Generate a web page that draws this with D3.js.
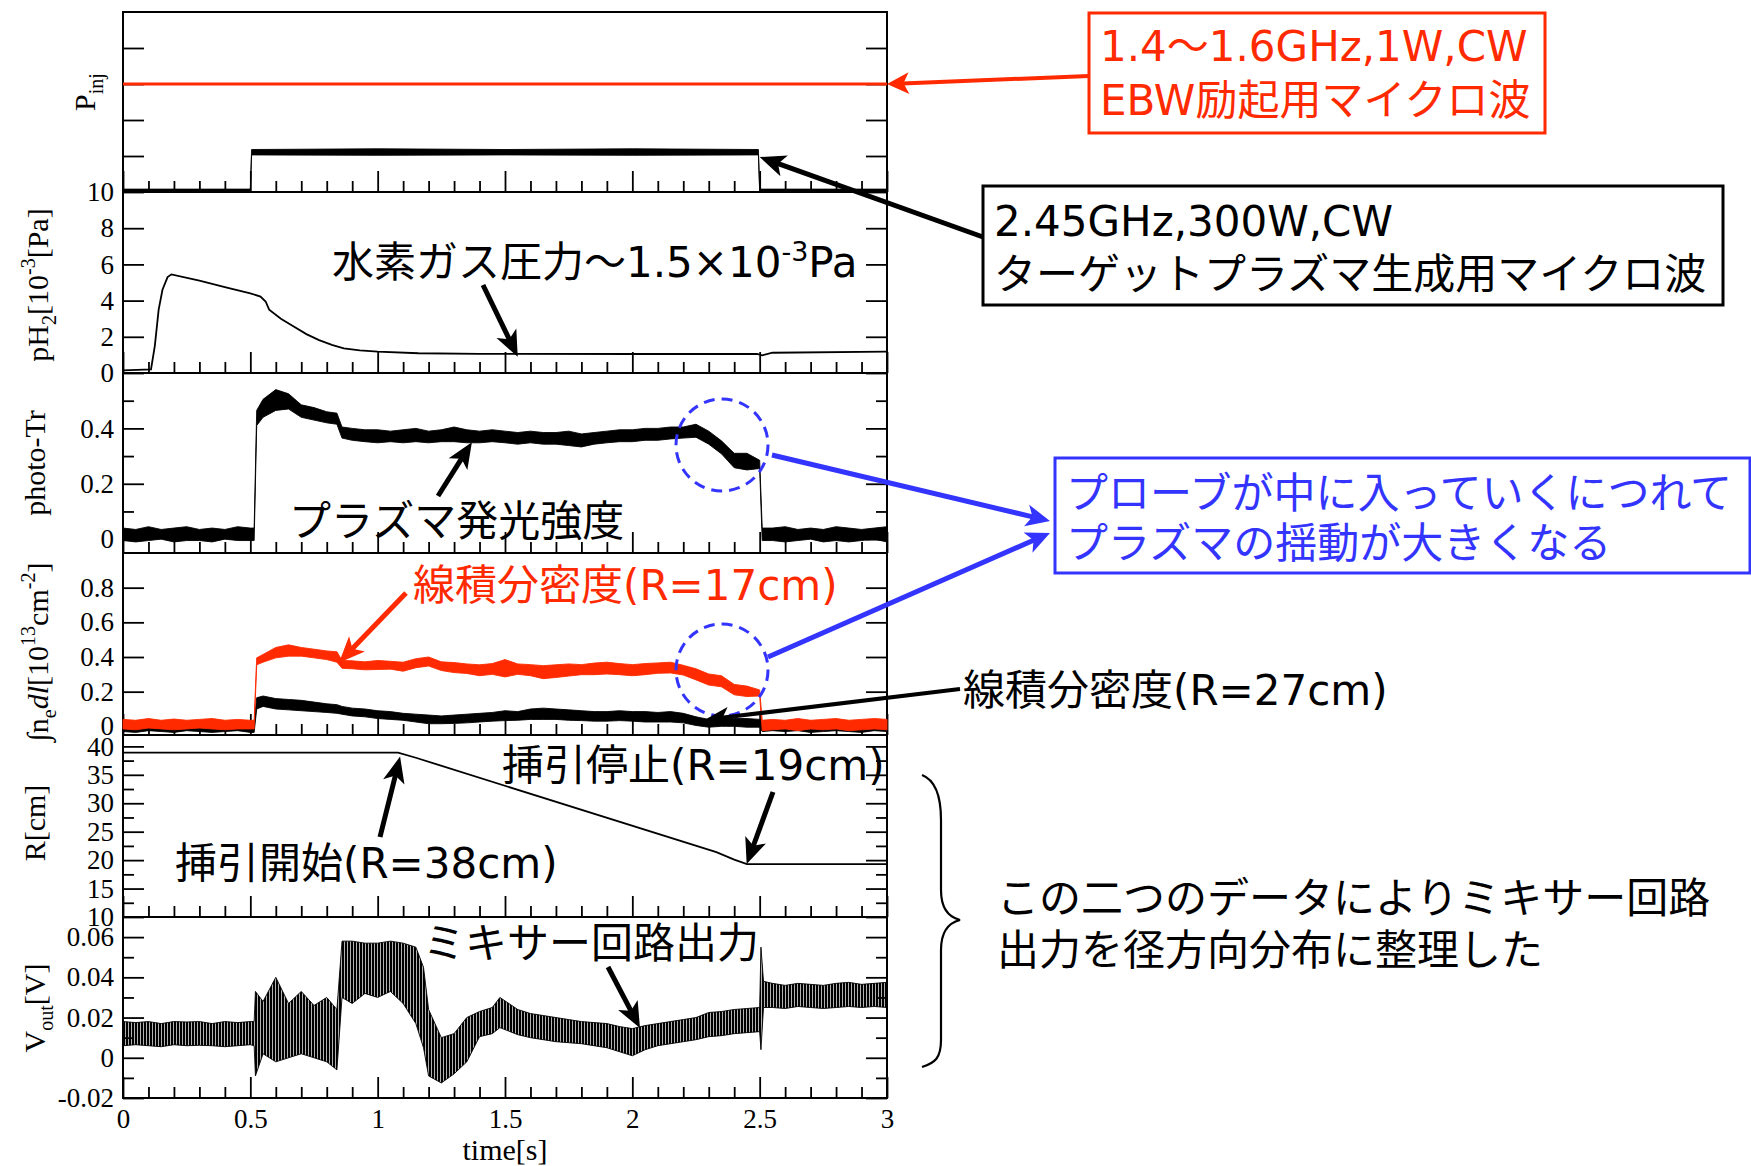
<!DOCTYPE html>
<html lang="ja">
<head>
<meta charset="UTF-8">
<title>プローブ挿引とプラズマ信号</title>
<script src="https://d3js.org/d3.v7.min.js"></script>
<style>
  body { margin: 0; background: #fff; }
  .ttl { font-family: "Liberation Serif", "DejaVu Serif", serif; font-size: 30px; }
  .note { font-family: "DejaVu Sans", "Noto Sans CJK JP", sans-serif; font-size: 42px; }
</style>
</head>
<body>
<svg width="1751" height="1166"></svg>
<script>
// ---- data ----
const xTicks = [0, 0.5, 1, 1.5, 2, 2.5, 3];

// P_inj panel
const rfLevel = 3;           // 1.4-1.6 GHz line
const pinjT  = [0, 0.25, 0.5, 0.505, 1.0, 1.5, 2.0, 2.495, 2.5, 2.75, 3];
const pinjLo = [0.02, 0.02, 0.02, 1.03, 1.02, 1.03, 1.02, 1.03, 0.02, 0.02, 0.02];
const pinjHi = [0.08, 0.08, 0.08, 1.18, 1.2, 1.18, 1.2, 1.18, 0.08, 0.08, 0.08];

// hydrogen pressure
const ph2T = [0, 0.11, 0.125, 0.14, 0.155, 0.175, 0.19, 0.3, 0.4, 0.5, 0.54, 0.56, 0.574, 0.62, 0.672, 0.72, 0.77, 0.82, 0.867, 0.93, 1.0, 1.16, 1.4, 2.0, 2.49, 2.51, 2.55, 3.0];
const ph2V = [0.15, 0.2, 1.5, 3.5, 4.6, 5.3, 5.45, 5.1, 4.75, 4.4, 4.22, 3.95, 3.5, 3.0, 2.56, 2.15, 1.82, 1.55, 1.36, 1.25, 1.18, 1.09, 1.06, 1.05, 1.05, 0.98, 1.12, 1.18];

// common time grid for photo-Tr and line density
const tGrid = [0, 0.05, 0.1, 0.15, 0.2, 0.25, 0.3, 0.35, 0.4, 0.45, 0.5, 0.515, 0.525, 0.55, 0.6, 0.65, 0.7, 0.75, 0.8, 0.84, 0.86, 0.9, 0.95, 1.0, 1.05, 1.1, 1.15, 1.2, 1.25, 1.3, 1.35, 1.4, 1.45, 1.5, 1.55, 1.6, 1.65, 1.7, 1.75, 1.8, 1.85, 1.9, 1.95, 2.0, 2.05, 2.1, 2.15, 2.2, 2.25, 2.3, 2.35, 2.4, 2.45, 2.5, 2.51, 2.55, 2.6, 2.65, 2.7, 2.75, 2.8, 2.85, 2.9, 2.95, 3.0];

const photoHi = [0.04, 0.035, 0.045, 0.035, 0.04, 0.045, 0.035, 0.04, 0.035, 0.045, 0.04, 0.04,
  0.465, 0.505, 0.54, 0.525, 0.485, 0.475, 0.46, 0.455, 0.405, 0.40, 0.395, 0.395, 0.39, 0.395, 0.40, 0.39, 0.395, 0.405,
  0.395, 0.39, 0.395, 0.39, 0.385, 0.39, 0.385, 0.385, 0.39, 0.38, 0.385, 0.39, 0.395, 0.395, 0.40, 0.40, 0.405, 0.405,
  0.415, 0.39, 0.355, 0.31, 0.31, 0.285,
  0.04, 0.04, 0.045, 0.035, 0.04, 0.035, 0.045, 0.04, 0.035, 0.04, 0.045];
const photoLo = [-0.005, -0.01, -0.005, 0.0, -0.01, -0.005, -0.005, -0.01, 0.0, -0.005, -0.005, -0.005,
  0.41, 0.44, 0.465, 0.47, 0.44, 0.43, 0.42, 0.415, 0.365, 0.357, 0.352, 0.348, 0.352, 0.348, 0.352, 0.348, 0.352, 0.352,
  0.348, 0.348, 0.352, 0.348, 0.343, 0.348, 0.343, 0.343, 0.338, 0.333, 0.343, 0.348, 0.352, 0.352, 0.357, 0.357, 0.362, 0.365,
  0.368, 0.343, 0.308, 0.258, 0.25, 0.255,
  -0.005, -0.005, -0.01, -0.005, 0.0, -0.01, -0.005, -0.01, -0.005, 0.0, -0.01];

const neRedHi = [0.04, 0.035, 0.045, 0.035, 0.042, 0.035, 0.04, 0.045, 0.035, 0.04, 0.035, 0.035,
  0.395, 0.415, 0.455, 0.47, 0.455, 0.445, 0.435, 0.43, 0.38, 0.378, 0.372, 0.38, 0.375, 0.37, 0.39, 0.40, 0.372, 0.368,
  0.36, 0.355, 0.362, 0.385, 0.36, 0.356, 0.35, 0.355, 0.36, 0.356, 0.365, 0.37, 0.362, 0.356, 0.362, 0.366, 0.37, 0.352,
  0.332, 0.302, 0.292, 0.242, 0.232, 0.21,
  0.035, 0.04, 0.035, 0.045, 0.035, 0.04, 0.045, 0.035, 0.04, 0.045, 0.04];
const neRedLo = [-0.015, -0.02, -0.01, -0.015, -0.02, -0.015, -0.01, -0.015, -0.02, -0.015, -0.015, -0.015,
  0.355, 0.37, 0.395, 0.405, 0.405, 0.395, 0.385, 0.37, 0.335, 0.332, 0.326, 0.328, 0.33, 0.318, 0.338, 0.348, 0.322, 0.31,
  0.305, 0.292, 0.30, 0.285, 0.30, 0.292, 0.275, 0.282, 0.29, 0.298, 0.298, 0.302, 0.298, 0.292, 0.298, 0.306, 0.308, 0.296,
  0.268, 0.238, 0.228, 0.182, 0.172, 0.175,
  -0.025, -0.02, -0.015, -0.025, -0.015, -0.02, -0.015, -0.025, -0.02, -0.015, -0.02];

const neBlackHi = [0.025, 0.03, 0.02, 0.025, 0.03, 0.025, 0.02, 0.03, 0.025, 0.02, 0.025, 0.025,
  0.165, 0.175, 0.16, 0.155, 0.15, 0.14, 0.13, 0.125, 0.115, 0.105, 0.10, 0.09, 0.085, 0.075, 0.07, 0.065, 0.06, 0.065,
  0.07, 0.075, 0.08, 0.09, 0.085, 0.10, 0.105, 0.10, 0.095, 0.09, 0.085, 0.085, 0.09, 0.085, 0.085, 0.08, 0.085, 0.075,
  0.055, 0.04, 0.05, 0.045, 0.045, 0.04,
  0.03, 0.025, 0.02, 0.025, 0.03, 0.02, 0.025, 0.02, 0.025, 0.03, 0.025];
const neBlackLo = [-0.03, -0.035, -0.025, -0.03, -0.035, -0.025, -0.03, -0.035, -0.03, -0.025, -0.035, -0.035,
  0.10, 0.115, 0.10, 0.095, 0.09, 0.085, 0.08, 0.075, 0.07, 0.06, 0.055, 0.045, 0.04, 0.035, 0.025, 0.015, 0.015, 0.017,
  0.02, 0.025, 0.03, 0.033, 0.035, 0.04, 0.04, 0.04, 0.035, 0.033, 0.03, 0.03, 0.033, 0.03, 0.025, 0.025, 0.025, 0.02,
  0.005, -0.005, 0.0, 0.0, -0.005, -0.005,
  -0.03, -0.025, -0.03, -0.025, -0.035, -0.03, -0.025, -0.03, -0.035, -0.025, -0.03];

// probe position
const rT = [0, 1.08, 1.15, 2.33, 2.4, 2.45, 3.0];
const rV = [38.9, 38.9, 38.0, 21.4, 20.1, 19.3, 19.3];

// mixer output
const vT = [0, 0.05, 0.1, 0.15, 0.2, 0.25, 0.3, 0.35, 0.4, 0.45, 0.5, 0.515, 0.52, 0.55, 0.6, 0.65, 0.7, 0.75, 0.8, 0.84, 0.86, 0.9, 0.95, 1.0, 1.05, 1.1, 1.15, 1.18, 1.2, 1.25, 1.3, 1.35, 1.4, 1.45, 1.48, 1.55, 1.6, 1.65, 1.7, 1.75, 1.8, 1.85, 1.9, 1.95, 2.0, 2.05, 2.1, 2.15, 2.2, 2.25, 2.3, 2.35, 2.4, 2.45, 2.5, 2.505, 2.515, 2.55, 2.6, 2.65, 2.7, 2.75, 2.8, 2.85, 2.9, 2.95, 3.0];
const vHi = [0.018, 0.0175, 0.018, 0.017, 0.018, 0.0178, 0.018, 0.017, 0.018, 0.0175, 0.018, 0.018,
  0.033, 0.028, 0.04, 0.027, 0.033, 0.026, 0.03, 0.024, 0.058, 0.058, 0.057, 0.057, 0.058, 0.057, 0.055, 0.045,
  0.024, 0.01, 0.012, 0.02, 0.023, 0.025, 0.03, 0.024, 0.022, 0.021, 0.02, 0.019, 0.018, 0.0175, 0.017, 0.0155,
  0.0145, 0.016, 0.017, 0.018, 0.019, 0.02, 0.0225, 0.023, 0.024, 0.0245, 0.025, 0.055, 0.038,
  0.037, 0.036, 0.037, 0.0365, 0.036, 0.037, 0.0375, 0.0365, 0.037, 0.0375];
const vLo = [0.006, 0.0065, 0.006, 0.0055, 0.0065, 0.006, 0.0062, 0.006, 0.0055, 0.006, 0.0065, 0.006,
  -0.009, 0.002, -0.002, 0.0, 0.002, 0.0, -0.002, -0.006, 0.03, 0.027, 0.032, 0.03, 0.033, 0.027, 0.017, 0.005,
  -0.009, -0.0125, -0.008, -0.002, 0.0105, 0.012, 0.015, 0.0115, 0.01, 0.009, 0.008, 0.0075, 0.007, 0.006, 0.005, 0.003,
  0.001, 0.004, 0.006, 0.007, 0.008, 0.009, 0.0105, 0.011, 0.012, 0.0125, 0.013, 0.004, 0.025,
  0.025, 0.0245, 0.0255, 0.025, 0.0245, 0.025, 0.0255, 0.025, 0.0255, 0.025];

// axis ticks
const pinjTicks = [1, 2, 3, 4];
const ph2Ticks = [0, 2, 4, 6, 8, 10];
const photoTicks = [0, 0.2, 0.4];
const photoMinor = [0.1, 0.3, 0.5];
const neTicks = [0, 0.2, 0.4, 0.6, 0.8];
const rTicks = [10, 15, 20, 25, 30, 35, 40];
const rMinor = [12.5, 17.5, 22.5, 27.5, 32.5, 37.5];
const vTicks = [-0.02, 0, 0.02, 0.04, 0.06];
const vMinor = [-0.01, 0.01, 0.03, 0.05];
const xMinor = d3.range(1, 30).map(i => i / 10).filter(d => Math.abs(d * 2 - Math.round(d * 2)) > 1e-6);

// ---- layout ----
const svg = d3.select("svg");
const X0 = 123, X1 = 887;
const edges = [12, 192, 373, 553, 735, 917, 1098];
const RED = "#ff2a00", BLUE = "#3434ff";

// dense vertical hatching for the oscillating mixer signal
svg.append("defs").append("pattern").attr("id", "osc")
  .attr("patternUnits", "userSpaceOnUse").attr("width", 3).attr("height", 10)
  .append("rect").attr("width", 2.3).attr("height", 10).attr("fill", "#000");

const x = d3.scaleLinear().domain([0, 3]).range([X0, X1]);
const yPinj  = d3.scaleLinear().domain([0, 5]).range([edges[1], edges[0]]);
const yPh2   = d3.scaleLinear().domain([0, 10]).range([edges[2], edges[1]]);
const yPhoto = d3.scaleLinear().domain([-0.05, 0.6]).range([edges[3], edges[2]]);
const yNe    = d3.scaleLinear().domain([-0.05, 1.0]).range([edges[4], edges[3]]);
const yR     = d3.scaleLinear().domain([10, 42]).range([edges[5], edges[4]]);
const yV     = d3.scaleLinear().domain([-0.02, 0.07]).range([edges[6], edges[5]]);

const fmt = d => String(d);
const panels = [
  { y: yPinj,  major: pinjTicks,  minor: [],         labels: false },
  { y: yPh2,   major: ph2Ticks,   minor: [],         labels: true },
  { y: yPhoto, major: photoTicks, minor: photoMinor, labels: true },
  { y: yNe,    major: neTicks,    minor: [],         labels: true },
  { y: yR,     major: rTicks,     minor: rMinor,     labels: true },
  { y: yV,     major: vTicks,     minor: vMinor,     labels: true }
];

function styleAxis(g) {
  g.select(".domain").remove();
  g.attr("font-family", "'Liberation Serif', 'DejaVu Serif', serif").attr("font-size", 27);
  g.selectAll(".tick line").attr("stroke", "#000").attr("stroke-width", 1.8);
  g.selectAll(".tick text").attr("fill", "#000");
}

panels.forEach((p, i) => {
  const top = edges[i], bot = edges[i + 1];
  const last = i === panels.length - 1;
  svg.append("g").attr("transform", `translate(${X0},0)`)
    .call(d3.axisLeft(p.y).tickValues(p.major).tickSize(-21).tickPadding(9)
      .tickFormat(p.labels ? fmt : ""))
    .call(styleAxis);
  svg.append("g").attr("transform", `translate(${X0},0)`)
    .call(d3.axisLeft(p.y).tickValues(p.minor).tickSize(-11).tickFormat(""))
    .call(styleAxis);
  svg.append("g").attr("transform", `translate(${X1},0)`)
    .call(d3.axisRight(p.y).tickValues(p.major).tickSize(-21).tickFormat(""))
    .call(styleAxis);
  svg.append("g").attr("transform", `translate(${X1},0)`)
    .call(d3.axisRight(p.y).tickValues(p.minor).tickSize(-11).tickFormat(""))
    .call(styleAxis);
  svg.append("g").attr("transform", `translate(0,${bot})`)
    .call(d3.axisBottom(x).tickValues(xTicks).tickSize(-21).tickPadding(11)
      .tickFormat(last ? fmt : ""))
    .call(styleAxis);
  svg.append("g").attr("transform", `translate(0,${bot})`)
    .call(d3.axisBottom(x).tickValues(xMinor).tickSize(-11).tickFormat(""))
    .call(styleAxis);
  svg.append("rect").attr("x", X0).attr("y", top).attr("width", X1 - X0).attr("height", bot - top)
    .attr("fill", "none").attr("stroke", "#000").attr("stroke-width", 2);
});

// ---- traces ----
function band(ts, lo, hi, y, color, fill) {
  const pts = ts.map((t, i) => ({ t, lo: lo[i], hi: hi[i] }));
  svg.append("path").datum(pts)
    .attr("d", d3.area().x(d => x(d.t)).y0(d => y(d.lo)).y1(d => y(d.hi)))
    .attr("fill", fill || color).attr("stroke", color).attr("stroke-width", 0.9);
}
function trace(ts, vs, y, color, w) {
  svg.append("path").datum(ts.map((t, i) => ({ t, v: vs[i] })))
    .attr("d", d3.line().x(d => x(d.t)).y(d => y(d.v)))
    .attr("fill", "none").attr("stroke", color).attr("stroke-width", w);
}

trace([0, 3], [rfLevel, rfLevel], yPinj, RED, 2.8);
band(pinjT, pinjLo, pinjHi, yPinj, "#000");
trace(ph2T, ph2V, yPh2, "#000", 1.8);
band(tGrid, photoLo, photoHi, yPhoto, "#000");
band(tGrid, neBlackLo, neBlackHi, yNe, "#000");
band(tGrid, neRedLo, neRedHi, yNe, RED);
trace(rT, rV, yR, "#000", 1.8);
band(vT, vLo, vHi, yV, "#000", "url(#osc)");

// ---- axis titles ----
function yTitle(bx, cy, parts) {
  const t = svg.append("text").attr("class", "ttl")
    .attr("transform", `translate(${bx},${cy}) rotate(-90)`).attr("text-anchor", "middle");
  parts.forEach(([s, kind, style]) => {
    const sp = t.append("tspan").text(s);
    if (kind === "sub") sp.attr("font-size", 20).attr("dy", 8);
    if (kind === "sup") sp.attr("font-size", 20).attr("dy", -13);
    if (kind === "back") sp.attr("dy", -8);
    if (kind === "down") sp.attr("dy", 13);
    if (style) sp.attr("font-style", style);
  });
}
yTitle(95, 92, [["P"], ["inj", "sub"]]);
yTitle(48, 285, [["pH"], ["2", "sub"], ["[10", "back"], ["-3", "sup"], ["[Pa]", "down"]]);
yTitle(45, 463, [["photo-Tr"]]);
yTitle(48, 652, [["\u222Bn"], ["e", "sub"], ["dl", "back", "italic"], ["[10"], ["13", "sup"], ["cm", "down"], ["-2", "sup"], ["]", "down"]]);
yTitle(45, 823, [["R[cm]"]]);
yTitle(45, 1008, [["V"], ["out", "sub"], ["[V]", "back"]]);
svg.append("text").attr("class", "ttl").attr("x", (X0 + X1) / 2).attr("y", 1160)
  .attr("text-anchor", "middle").text("time[s]");

// ---- annotations ----
function note(nx, ny, s, color) {
  return svg.append("text").attr("class", "note").attr("x", nx).attr("y", ny)
    .attr("fill", color || "#000").text(s);
}
function arrow(x1, y1, x2, y2, color, w, hl, hw) {
  const L = Math.hypot(x2 - x1, y2 - y1), ux = (x2 - x1) / L, uy = (y2 - y1) / L;
  const nx = -uy, ny = ux;
  svg.append("line").attr("x1", x1).attr("y1", y1)
    .attr("x2", x2 - ux * hl * 0.7).attr("y2", y2 - uy * hl * 0.7)
    .attr("stroke", color).attr("stroke-width", w);
  const bx = x2 - ux * hl, by = y2 - uy * hl;
  const pts = [[x2, y2], [bx + nx * hw / 2, by + ny * hw / 2],
    [x2 - ux * hl * 0.75, y2 - uy * hl * 0.75], [bx - nx * hw / 2, by - ny * hw / 2]];
  svg.append("polygon").attr("points", pts.map(p => p.join(",")).join(" ")).attr("fill", color);
}

// red box
svg.append("rect").attr("x", 1089).attr("y", 13).attr("width", 456).attr("height", 120)
  .attr("fill", "#fff").attr("stroke", RED).attr("stroke-width", 3);
note(1100, 61, "1.4〜1.6GHz,1W,CW", RED).attr("font-size", 40);
note(1100, 115, "EBW励起用マイクロ波", RED).attr("font-size", 40);
arrow(1089, 76, x(3), yPinj(rfLevel), RED, 4, 22, 22);

// black box
svg.append("rect").attr("x", 983).attr("y", 186).attr("width", 740).attr("height", 119)
  .attr("fill", "#fff").attr("stroke", "#000").attr("stroke-width", 3);
note(994, 236, "2.45GHz,300W,CW");
note(994, 289, "ターゲットプラズマ生成用マイクロ波");
arrow(983, 237, x(2.5), yPinj(0.97), "#000", 5, 26, 22);

// pressure
const pn = note(332, 277, "水素ガス圧力〜1.5×10");
pn.append("tspan").attr("dy", -16).attr("font-size", 27).text("-3");
pn.append("tspan").attr("dy", 16).text("Pa");
arrow(483, 285, x(1.55), yPh2(0.9), "#000", 5, 26, 22);

// photo-Tr
note(289, 536, "プラズマ発光強度");
arrow(438, 496, x(1.37), yPhoto(0.35), "#000", 5, 26, 22);

// blue circles + box
[[722, 445], [722, 670]].forEach(([cx, cy]) => {
  svg.append("circle").attr("cx", cx).attr("cy", cy).attr("r", 46)
    .attr("fill", "none").attr("stroke", BLUE).attr("stroke-width", 3)
    .attr("stroke-dasharray", "11,7");
});
svg.append("rect").attr("x", 1055).attr("y", 458).attr("width", 695).attr("height", 115)
  .attr("fill", "#fff").attr("stroke", BLUE).attr("stroke-width", 3);
note(1066, 508, "プローブが中に入っていくにつれて", BLUE);
note(1066, 558, "プラズマの揺動が大きくなる", BLUE);
arrow(772, 455, 1050, 521, BLUE, 5, 24, 22);
arrow(768, 657, 1050, 533, BLUE, 5, 24, 22);

// line density
note(413, 600, "線積分密度(R=17cm)", RED);
arrow(406, 593, x(0.848), yNe(0.367), RED, 5, 26, 22);
note(963, 705, "線積分密度(R=27cm)");
arrow(960, 689, x(2.285), yNe(0.038), "#000", 4, 24, 20);

// probe position
note(502, 780, "挿引停止(R=19cm)");
arrow(773, 792, x(2.449), yR(19.3), "#000", 5, 26, 22);
note(175, 878, "挿引開始(R=38cm)");
arrow(380, 837, x(1.088), yR(38.2), "#000", 5, 26, 22);

// mixer
note(423, 958, "ミキサー回路出力");
arrow(608, 967, x(2.03), yV(0.0148), "#000", 5, 26, 22);

// brace and summary
svg.append("path")
  .attr("d", "M922,775 C935,780 941,795 941,820 L941,890 C941,908 948,917 960,920 C948,923 941,932 941,950 L941,1040 C941,1058 935,1063 922,1067")
  .attr("fill", "none").attr("stroke", "#000").attr("stroke-width", 2.2);
note(997, 913, "この二つのデータによりミキサー回路");
note(997, 965, "出力を径方向分布に整理した");
</script>
</body>
</html>
